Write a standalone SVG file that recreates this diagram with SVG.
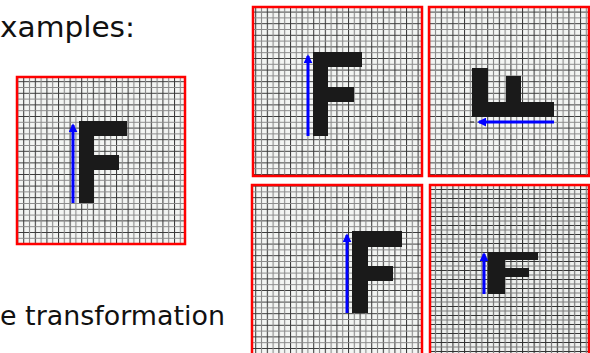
<svg xmlns="http://www.w3.org/2000/svg" width="590" height="353" viewBox="0 0 590 353">
<style>
.txt{font-family:"DejaVu Sans","Liberation Sans",sans-serif;fill:#111}
.frame{stroke:#ff0000;stroke-width:2.5}
.glyph{fill:#1a1a1a}
.arrow{stroke:#0000ff;stroke-width:3;fill:none;marker-end:url(#ah)}
</style>
<defs>
<pattern id="grid" width="11.6" height="11.6" patternUnits="userSpaceOnUse">
<rect width="11.6" height="11.6" fill="#f3f5f3"/>
<path d="M0.5 0V11.6M0 0.5H11.6" stroke="#3a3a3a" stroke-width="1.1"/>
<path d="M6.3 0V11.6M0 6.3H11.6" stroke="#8a8a8a" stroke-width="1.1"/>
</pattern>
<pattern id="grid2" width="11.6" height="9" patternUnits="userSpaceOnUse">
<rect width="11.6" height="9" fill="#eef0ee"/>
<path d="M0.5 0V9M0 0.5H11.6" stroke="#333" stroke-width="1.2"/>
<path d="M6.3 0V9M0 5H11.6" stroke="#7a7a7a" stroke-width="1.2"/>
</pattern>
<marker id="ah" viewBox="0 0 10 10" refX="8" refY="5" markerWidth="3" markerHeight="3" orient="auto">
<path d="M0 0L10 5L0 10z" fill="#0000ff"/>
</marker>
</defs>
<text class="txt" x="0" y="37" font-size="28" textLength="135" lengthAdjust="spacingAndGlyphs">xamples:</text>
<text class="txt" x="0" y="325" font-size="26" textLength="225" lengthAdjust="spacingAndGlyphs">e transformation</text>
<g id="original">
<rect class="frame" x="17" y="77" width="168" height="167" fill="url(#grid)"/>
<path class="glyph" d="M79 121H127V136H94V155H119V170H94V203H79Z"/>
<line class="arrow" x1="73" y1="203" x2="73" y2="125"/>
</g>
<g id="translated">
<rect class="frame" x="253" y="7" width="169" height="169" fill="url(#grid)"/>
<path class="glyph" d="M313 52H362V67H328V87H354V102H328V136H313Z"/>
<line class="arrow" x1="308" y1="136" x2="308" y2="56"/>
</g>
<g id="rotated">
<rect class="frame" x="429" y="7" width="160" height="169" fill="url(#grid)"/>
<path class="glyph" d="M472 68H488V102H506V76H521V102H554V117H472Z"/>
<line class="arrow" x1="554" y1="122" x2="479" y2="122"/>
<line x1="470" y1="122" x2="474" y2="122" stroke="#222" stroke-width="1"/>
</g>
<g id="shifted">
<rect class="frame" x="252" y="185" width="170" height="172" fill="url(#grid)"/>
<path class="glyph" d="M352 231H402V247H368V266H393V281H368V313H352Z"/>
<line class="arrow" x1="347" y1="313" x2="347" y2="235"/>
</g>
<g id="scaled">
<rect class="frame" x="430" y="185" width="159" height="172" fill="url(#grid2)"/>
<path class="glyph" d="M488 252H538V260H505V268H529V277H505V294H488Z"/>
<line class="arrow" x1="484" y1="294" x2="484" y2="254"/>
</g>
</svg>
